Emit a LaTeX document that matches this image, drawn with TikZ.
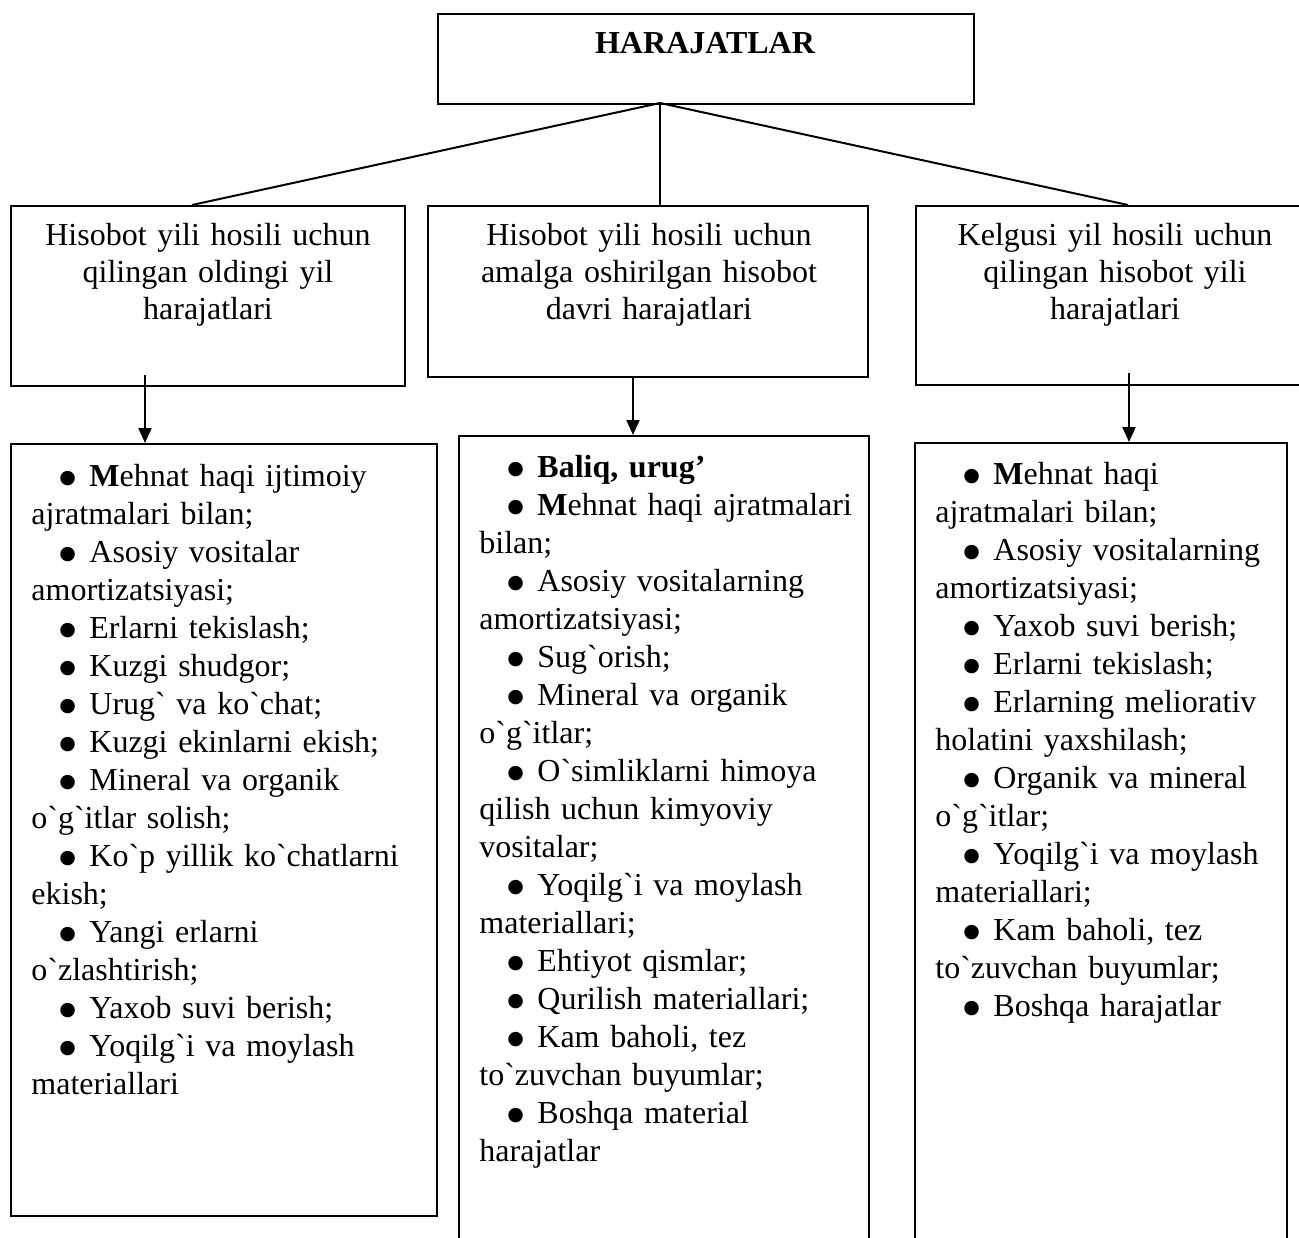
\documentclass[tikz,border=0pt]{standalone}
\usepackage{fontspec}
\setmainfont{Liberation Serif}
\newfontfamily\symfont{DejaVu Sans}
\usetikzlibrary{arrows.meta}
\newcommand{\itm}{\hspace*{14pt}\makebox[15pt][l]{\raisebox{1.4pt}{\symfont\fontsize{9.5}{9.5}\selectfont ●}}}
\newcommand{\gv}{\textasciigrave}

\begin{document}
\begin{tikzpicture}[x=0.5pt,y=-0.5pt,>={Triangle[length=7.5pt,width=6.5pt]},
	box/.style={rectangle,draw,line width=1pt,inner sep=0pt,anchor=north west},
	head/.style={anchor=base,inner sep=0pt,text width=195pt,align=center,font={\fontsize{16}{18.5}\selectfont}},
	list/.style={anchor=base west,inner sep=0pt,text width=215pt,align=left,font={\fontsize{16}{19}\selectfont}},
	link/.style={line width=1pt}]
	\useasboundingbox (0,0) rectangle (1299,1237);
	\clip (0,0) rectangle (1299,1237);
	
	% boxes
	\node[box,minimum width=268pt,minimum height=45pt] (hdr) at (437,13) {};
	\node[box,minimum width=197pt,minimum height=90pt] (m1) at (10,205) {};
	\node[box,minimum width=220pt,minimum height=85.5pt] (m2) at (427,205) {};
	\node[box,minimum width=200pt,minimum height=89.5pt] (m3) at (915,205) {};
	\node[box,minimum width=213pt,minimum height=386pt] (b1) at (10,443) {};
	\node[box,minimum width=205pt,minimum height=410pt] (b2) at (458,435) {};
	\node[box,minimum width=186pt,minimum height=410pt] (b3) at (914,442) {};
	
	\node[anchor=base,inner sep=0pt,font={\fontsize{16}{19}\selectfont\bfseries}] (t0) at (705,53) {HARAJATLAR};
	
	\node[head] (t1) at (208,245) {Hisobot yili hosili uchun\\qilingan oldingi yil\\harajatlari};
	\node[head] (t2) at (649,245) {Hisobot yili hosili uchun\\amalga oshirilgan hisobot\\davri harajatlari};
	\node[head] (t3) at (1115,245) {Kelgusi yil hosili uchun\\qilingan hisobot yili\\harajatlari};
	
	% lines from the top box
	\coordinate (hub) at (660,103);
	\foreach \i/\x in {1/192,2/660,3/1128}{
		\coordinate (e\i) at (\x,205);
		\draw[link] (hub)--(e\i);
	}
	
	% arrows down
	\coordinate (a1) at (145,375);
	\coordinate (a2) at (633,376);
	\coordinate (a3) at (1129,373);
	\foreach \i in {1,2,3}{
		\draw[->,link] (a\i)--(a\i |- b\i.north);}
	
	\node[list] (l1) at (31,486) {\itm\textbf{M}ehnat haqi ijtimoiy\\
		ajratmalari bilan;\\
		\itm Asosiy vositalar\\
		amortizatsiyasi;\\
		\itm Erlarni tekislash;\\
		\itm Kuzgi shudgor;\\
		\itm Urug\gv{} va ko\gv{}chat;\\
		\itm Kuzgi ekinlarni ekish;\\
		\itm Mineral va organik\\
		o\gv{}g\gv{}itlar solish;\\
		\itm Ko\gv{}p yillik ko\gv{}chatlarni\\
		ekish;\\
		\itm Yangi erlarni\\
		o\gv{}zlashtirish;\\
		\itm Yaxob suvi berish;\\
		\itm Yoqilg\gv{}i va moylash\\
		materiallari};
	
	\node[list] (l2) at (479,477) {\itm\textbf{Baliq, urug’}\\
		\itm\textbf{M}ehnat haqi ajratmalari\\
		bilan;\\
		\itm Asosiy vositalarning\\
		amortizatsiyasi;\\
		\itm Sug\gv{}orish;\\
		\itm Mineral va organik\\
		o\gv{}g\gv{}itlar;\\
		\itm O\gv{}simliklarni himoya\\
		qilish uchun kimyoviy\\
		vositalar;\\
		\itm Yoqilg\gv{}i va moylash\\
		materiallari;\\
		\itm Ehtiyot qismlar;\\
		\itm Qurilish materiallari;\\
		\itm Kam baholi, tez\\
		to\gv{}zuvchan buyumlar;\\
		\itm Boshqa material\\
		harajatlar};
	
	\node[list] (l3) at (935,484) {\itm\textbf{M}ehnat haqi\\
		ajratmalari bilan;\\
		\itm Asosiy vositalarning\\
		amortizatsiyasi;\\
		\itm Yaxob suvi berish;\\
		\itm Erlarni tekislash;\\
		\itm Erlarning meliorativ\\
		holatini yaxshilash;\\
		\itm Organik va mineral\\
		o\gv{}g\gv{}itlar;\\
		\itm Yoqilg\gv{}i va moylash\\
		materiallari;\\
		\itm Kam baholi, tez\\
		to\gv{}zuvchan buyumlar;\\
		\itm Boshqa harajatlar};
\end{tikzpicture}
\end{document}
